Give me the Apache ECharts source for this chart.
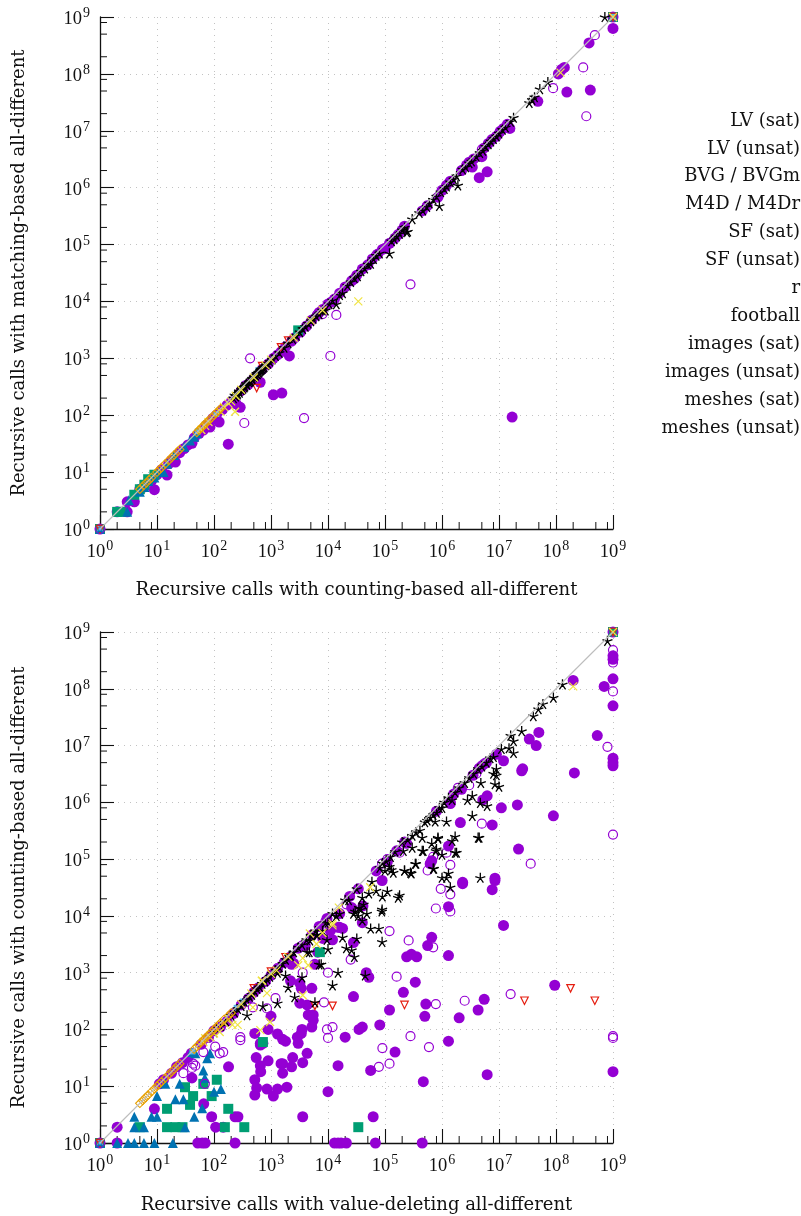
<!DOCTYPE html>
<html><head><meta charset="utf-8">
<style>html,body{margin:0;padding:0;background:#fff}#c{width:801px;height:1216px}</style>
<script src="https://cdn.jsdelivr.net/npm/echarts@6/dist/echarts.min.js"></script></head>
<body><div id="c"></div>
<script>
const legendNames = ['LV (sat)','LV (unsat)','BVG / BVGm','M4D / M4Dr','SF (sat)','SF (unsat)','r','football','images (sat)','images (unsat)','meshes (sat)','meshes (unsat)'];
const topTitleX = 'Recursive calls with counting-based all-different';
const topTitleY = 'Recursive calls with matching-based all-different';
const botTitleX = 'Recursive calls with value-deleting all-different';
const botTitleY = 'Recursive calls with counting-based all-different';
const corners = [[1,1],[1e9,1e9]];
const diagonal = [[1,1],[1e9,1e9]];

/* ---------- top chart: counting-based (x) vs matching-based (y) ---------- */
const topFilled = [[2,2],[3,3],[3,2],[4,3],[5,5],[6,5.5],[8,7],[9,4.9],[10,9],[12,11],[15,8.9],[16,14],[18,16],[21,15],[25,22],[30,26],[35,30],[41,32],[45,40],[55,48],[65,55],[75,68],[85,62],[95,88],[110,100],[123,76],[140,125],[170,150],[178,31],[200,170],[245,158],[288,138],[300,270],[400,350],[500,440],[645,380],[700,640],[900,800],[1100,229],[1550,245],[1300,1150],[1800,1600],[2100,1100],[2600,2300],[3300,2900],[4200,3700],[5200,4700],[6500,5800],[8000,7200],[1e4,9000],[1.3e4,1.1e4],[1.6e4,1.4e4],[2e4,1.8e4],[2.6e4,2.3e4],[3.2e4,2.9e4],[4e4,3.7e4],[5e4,4.4e4],[6e4,5.6e4],[7.5e4,6.8e4],[9e4,8.2e4],[1e5,8.6e4],[1.5e5,1.3e5],[1.7e5,1.5e5],[2e5,1.8e5],[2.2e5,2.1e5],[4.5e5,3.9e5],[5.5e5,4.8e5],[8.5e5,6.8e5],[1e6,9e5],[1.2e6,1.1e6],[1.4e6,1.3e6],[2.2e6,2e6],[2.7e6,2.5e6],[3e6,2.8e6],[3.4e6,2.3e6],[4.5e6,1.5e6],[5e6,3.5e6],[6.2e6,1.9e6],[5.5e6,5e6],[6.5e6,6e6],[7.5e6,7e6],[1.05e7,9.8e6],[1.2e7,1.1e7],[1.4e7,1.3e7],[1.55e7,1.1e7],[1.7e7,93],[4.8e7,3.3e7],[1.1e8,1e8],[1.25e8,1.2e8],[1.4e8,1.3e8],[1.55e8,4.8e7],[3.8e8,3.5e8],[4e8,5.2e7],[1e9,6.3e8],[1e9,1e9],[1,1],[1.1e3,1e3],[1.5e3,1.3e3],[2.3e3,2e3],[7e3,6.4e3],[1.15e4,9800],[2.9e4,2.5e4],[1.2e5,1.05e5],[3.6e6,3.2e6],[9e6,8e6]];
const topOpen = [[430,1000],[340,73],[3800,89],[1.1e4,1100],[1.4e4,5800],[2.8e5,2e4],[8.9e7,5.6e7],[3e8,1.3e8],[3.4e8,1.8e7],[4.8e8,4.8e8],[1.2e8,1.1e8],[1.3e6,1.2e6],[7e4,6.5e4],[1e7,9e6],[5e6,4.7e6],[2.2e6,2e6],[8e3,6e3],[350,330],[1e9,1e9],[1,1]];
const topSquares = [[1,1],[2,2],[2.3,2],[4,4],[5,5],[6,6],[7,7.5],[9,9],[3000,3100],[1e9,1e9]];
const topTriangles = [[1,1],[3,2],[3.2,3.2],[5,4.5],[6,5.5],[7,7],[9,8],[11,10],[13,10],[15,14],[20,20],[30,28],[38,36],[45,42],[50,48]];
const topSkyBlue = [[1,1],[52,52],[110,105],[600,620],[1e9,1e9]];
const topStars = [[220,200],[230,225],[240,215],[255,230],[260,240],[275,265],[280,250],[300,280],[310,300],[320,290],[340,310],[350,320],[370,360],[380,340],[410,380],[430,390],[440,400],[460,430],[470,440],[500,470],[520,490],[540,500],[560,540],[580,530],[600,560],[620,570],[640,600],[660,620],[680,640],[700,650],[730,680],[760,700],[820,760],[880,810],[950,880],[1050,960],[1200,1100],[1400,1250],[1700,1550],[2000,1850],[2400,2200],[2800,2500],[3200,2900],[3600,3300],[4000,3600],[4500,4100],[5000,4500],[5500,5000],[6200,5500],[7000,6000],[8000,7000],[9000,7000],[1.05e4,9000],[1.2e4,1.05e4],[1.4e4,9000],[1.6e4,1.3e4],[1.8e4,1.4e4],[2.2e4,1.9e4],[2.5e4,2.2e4],[2.9e4,2.6e4],[3.3e4,2.8e4],[3.8e4,3.4e4],[4.4e4,3.8e4],[5e4,4.5e4],[5.6e4,4.6e4],[6.3e4,5.6e4],[7e4,6.4e4],[8e4,7e4],[1.2e5,7e4],[1.3e5,1.15e5],[1.45e5,1.25e5],[1.6e5,1.4e5],[1.8e5,1.55e5],[2e5,1.8e5],[2.2e5,2e5],[2.5e5,1.7e5],[2.4e5,1.65e5],[3e5,2.8e5],[4e5,3.6e5],[4.6e5,4e5],[5.4e5,4.6e5],[6e5,5.3e5],[7e5,6.2e5],[8e5,7e5],[9e5,4.8e5],[9.5e5,8.4e5],[1.1e6,9.5e5],[1.2e6,1.05e6],[1.4e6,1.25e6],[1.6e6,1.4e6],[1.9e6,1.1e6],[1.8e6,1.6e6],[2.3e6,2.1e6],[2.6e6,2.3e6],[3e6,2.7e6],[3.3e6,2.9e6],[4e6,3.5e6],[4.6e6,4.1e6],[5.2e6,4.5e6],[5.8e6,5.3e6],[6.5e6,5.8e6],[7.2e6,6.5e6],[8e6,7.2e6],[9e6,8e6],[1e7,9e6],[1.15e7,1.05e7],[1.3e7,1.15e7],[1.8e7,1.7e7],[1.6e7,1.45e7],[3.4e7,3.1e7],[3.8e7,3.5e7],[4.2e7,3.9e7],[5.2e7,5.4e7],[7.2e7,7.2e7],[7.2e8,1e9]];
const topRedTriangles = [[1,1],[560,300],[2e3,2050],[700,730],[1500,1560],[1e9,1e9]];
const topDiamonds = [[5,5],[5.8,5.8],[6.5,6.5],[7.3,7.3],[8,8],[10,10],[11,11],[12,12],[14,14],[16,16],[18,18],[20,20],[23,23],[25,25],[50,50],[55,55],[60,60],[65,65],[70,70],[75,75],[80,80],[90,90],[100,100],[110,110],[120,120],[130,130]];
const topCrosses = [[234,115],[3.4e4,1e4],[60,55],[70,65],[80,76],[130,115],[150,140],[180,160],[200,175],[240,220],[300,280],[500,460],[800,750],[1000,950],[2500,2300],[5000,4600],[8000,7000],[1.2e8,1.05e8],[1e9,1e9]];

/* ---------- bottom chart: value-deleting (x) vs counting-based (y) ---------- */
const botFilled = [[1e9,1.5e8],[1e9,5e7],[7e8,1.1e8],[2e8,1.4e8],[5.3e8,1.5e7],[1e9,6e6],[1e9,5e6],[1e9,4.4e6],[2.1e8,3.3e6],[9e7,5.8e5],[1e9,3.8e8],[1e9,3.3e8],[5e7,1.7e7],[3.4e7,1.3e7],[4.5e7,1e7],[9e6,7e6],[1.2e7,5.4e6],[5.6e6,4.8e6],[2.6e7,3.9e6],[2.5e7,3.6e6],[2.2e6,1.7e6],[6.2e6,1.3e6],[5.2e6,1.1e6],[1.4e6,1e6],[1.1e7,8e5],[2.1e7,9e5],[2.1e6,4.4e5],[7.6e6,4e5],[2.2e7,1.5e5],[1.3e6,1.7e5],[6.6e5,9.4e4],[6.2e5,8.3e4],[2.4e5,1.9e5],[8.5e6,4.6e4],[2.3e6,3.9e4],[2.3e6,3.7e4],[7.6e6,2.9e4],[8.5e6,4.2e4],[1.2e7,6.8e3],[6.6e5,4.2e3],[5.6e5,3e3],[1.3e6,2e3],[2.4e5,1.9e3],[2.9e5,2.1e3],[3.6e5,1.9e3],[4.7e4,1e3],[5.2e4,830],[3.4e5,680],[2.1e5,450],[9.5e7,600],[5.5e6,340],[5.2e5,280],[1.2e5,220],[2.8e4,380],[5e5,170],[2e6,160],[4.3e6,220],[8.1e4,120],[3.5e4,100],[4e4,110],[2e4,73],[1.3e6,62],[1.5e5,40],[1.5e4,23],[5.6e4,19],[6.2e6,16],[1e9,18],[4.7e5,12],[1e4,8],[6.2e4,2.9],[3.6e3,2.9],[5.2e3,530],[4.3e3,38],[3.6e3,26],[1.3e4,1],[1.5e4,1],[1.7e4,1],[2.1e4,1],[6.8e4,1],[4.5e5,1],[3.2e3,650],[3.4e3,530],[5.9e3,1400],[2.2e3,720],[2.3e3,1400],[2.5e3,1450],[6.6e3,2300],[3.2e3,290],[4.3e3,270],[4.5e3,180],[5.5e3,145],[5.5e3,180],[5.2e3,110],[3.5e3,100],[2.9e3,73],[3.4e3,85],[3e3,57],[1.3e3,83],[1.6e3,67],[1.8e3,62],[650,57],[720,57],[520,85],[1e3,170],[890,100],[550,32],[890,28],[2.4e3,32],[1.5e3,25],[2.3e3,22],[650,23],[660,18],[1.6e3,17],[520,13],[180,22],[650,53],[1600,25],[1900,9.6],[520,7],[560,9.3],[850,8.9],[1300,8.9],[1100,6.7],[41,14],[66,4.9],[9,4],[2,1.9],[91,2.9],[107,1.9],[145,1.9],[234,2.9],[263,2.9],[2,1],[52,1],[62,1],[70,1],[234,1],[1.6e4,6300],[1.8e4,6000],[1.2e4,3800],[8.1e3,4000],[2.8e4,3400],[2.6e4,1.4e4],[1.6e4,1.1e4],[4e4,7600],[4.1e4,1.5e4],[1.5e4,6300],[1.1e4,5500],[8.9e4,4.2e4],[1.3e6,1.45e4],[1.4e6,9.5e5],[9.6e3,9000],[5.2e3,4600],[4e3,3000],[11,11],[13,13],[18,17],[22,22],[28,26],[35,32],[40,38],[60,55],[80,72],[100,95],[130,110],[170,140],[220,190],[300,270],[400,350],[500,450],[600,540],[800,700],[1e3,900],[1300,1150],[1700,1500],[2200,1900],[3e3,2700],[7e3,6500],[2.4e4,2.2e4],[3.4e4,3e4],[7e4,6.2e4],[1.1e5,9e4],[1.6e5,1.4e5],[2.2e5,2e5],[8e5,7e5],[1.6e6,1.4e6],[3.5e6,3e6],[4.5e6,4e6],[5e6,4.4e6],[6e6,5e6],[1e9,1e9],[1,1]];
const botOpen = [[1e9,4.8e8],[1e9,2.9e8],[1e9,9e7],[8e8,9.5e6],[1e9,2.7e5],[5e6,4.2e5],[3.6e7,8.3e4],[1.4e6,7.9e4],[5.6e5,6.3e4],[1.2e6,1.3e5],[7e5,1.1e5],[1.1e5,1e5],[8.9e4,8.3e4],[1.8e5,1.3e5],[3e6,2e6],[4e6,3.2e6],[1.9e6,1.8e6],[9.6e3,100],[1.2e4,110],[1e4,71],[2.8e5,76],[9e4,47],[5.9e5,49],[1.2e5,25],[7.8e4,22],[2.5e6,320],[7.8e5,280],[1.6e7,420],[1.6e5,850],[1e4,1e3],[1.2e5,5400],[2.6e5,3700],[7e5,2800],[2.5e4,1700],[8.5e3,300],[7.8e5,1.35e4],[1.4e6,1.2e4],[9.5e5,3e4],[1.4e6,2.4e4],[1e9,76],[1e9,71],[290,73],[290,65],[105,50],[126,38],[145,40],[65,40],[43,25],[47,23],[41,21],[29,17],[69,11],[850,235],[1200,355],[480,245],[3500,3000],[3600,1000],[1e3,900],[1.3e3,1.2e3],[9e3,8e3],[2.1e4,1.6e4],[1,1],[1e9,1e9]];
const botSquares = [[5,1.9],[15,1.9],[21,1.9],[28,1.9],[15,4],[38,4.7],[31,9.6],[43,6.7],[65,11],[112,13],[91,6.7],[178,4],[155,1.9],[340,1.9],[720,60],[3.4e4,1.9],[7.2e3,2300],[1,1],[1e9,1e9]];
const botTriangles = [[4,2.9],[4,1.9],[5.9,1.9],[8,2.9],[10,2.9],[10,6.7],[14,11],[21,5.9],[29,5.9],[25,11],[31,1.9],[45,2.9],[62,4.1],[65,19],[69,14],[100,8],[132,8.9],[76,31],[85,38],[47,38],[40,40],[2,1],[3.1,1],[4,1],[5.9,1],[9,1],[19,1],[1,1]];
const botSkyBlue = [[1,1],[42,41],[320,310],[250,240]];
const botStars = [[8e8,7e8],[1.3e8,1.2e8],[9e7,7e7],[5.9e7,5.4e7],[4.9e7,4.4e7],[4e7,3.3e7],[2.5e7,1.8e7],[1.6e7,1.5e7],[1.8e7,1.2e7],[1.5e7,9e6],[1.8e7,7.4e6],[1.1e7,8.7e6],[8e6,6.3e6],[6e6,5e6],[4.3e6,3.9e6],[8e6,3.2e6],[9e6,3.9e6],[9e6,3e6],[4.8e6,2.2e6],[8.5e6,2.1e6],[1e7,1.9e6],[2.5e6,2.2e6],[3.4e6,1.3e6],[2.8e6,1.1e6],[4.7e6,9.8e5],[6.2e6,8.7e5],[1.5e6,1.1e6],[1e6,8e5],[3.4e6,5.8e5],[8e5,6.6e5],[1.2e6,4.6e5],[7.6e5,4.6e5],[5.5e5,4.8e5],[4.1e5,3.2e5],[4.5e5,2.4e5],[4.5e6,2.4e5],[8.5e5,2.3e5],[1.7e6,2.5e5],[1.5e6,2.1e5],[8e5,1.5e5],[1.7e6,1.3e5],[4.7e5,1.4e5],[2e5,2e5],[3.4e5,8.3e4],[2.1e5,1.4e5],[2.8e5,5.8e4],[2.2e5,6.3e4],[7e5,6.8e4],[1.2e6,4.7e4],[4.7e6,4.7e4],[5.6e4,6e3],[7.8e4,6e3],[8.9e4,3.5e3],[3.2e4,4e3],[1.8e4,4.2e3],[2.1e4,2.7e3],[2.6e4,2.5e3],[2.9e4,1.9e3],[1e4,2.6e3],[7.6e3,1.4e3],[1.5e4,1e3],[4.5e4,900],[1.2e4,600],[3.5e3,830],[5.9e3,300],[9.6e3,3.8e3],[8.9e4,1.3e4],[8.8e4,1.2e4],[1.8e5,2.3e4],[1.7e5,2.1e4],[1.1e5,2.7e4],[9e4,2.2e4],[7e4,2.8e4],[5.2e4,2.5e4],[4e4,2.1e4],[4.8e4,1.1e4],[4e4,8.3e3],[3.5e4,1.4e4],[2.8e4,1.1e4],[2.3e4,1.9e4],[1.6e4,1.1e4],[1.2e4,1.1e4],[1e4,7.6e3],[6.5e3,4.6e3],[4.8e3,3.7e3],[4.7e3,2.3e3],[4.3e6,2.4e5],[3.5e5,8.3e4],[7.2e5,6.8e4],[1e6,4.7e4],[1.3e6,5.6e4],[1.4e6,3.2e4],[1.8e6,1.3e5],[1e6,1.2e5],[7.8e5,1.4e5],[6.6e5,1.9e5],[8.5e5,2.4e5],[4.5e5,1.4e5],[3e5,1.6e5],[2.2e5,6.3e4],[2.9e5,5.6e4],[5.9e4,4e4],[3.2e4,3e4],[1.4e5,5.8e4],[1.2e5,7.4e4],[1e5,6.3e4],[8.1e4,7e4],[1.3e5,6.5e4],[2.6e3,370],[2e3,550],[1.3e3,290],[720,257],[380,178],[1.8e3,890],[7e3,1.4e3],[1.3e3,1e3],[4.3e3,2.3e3],[2.2e3,2e3],[6.3e3,4.7e3],[8e3,5.5e3],[9e3,7.5e3],[1.4e4,1e4],[2e4,1.9e4],[3e4,1.2e4],[4.2e4,1.6e4],[3.8e4,1.3e4],[3.4e4,1e4],[100,90],[130,115],[160,140],[200,175],[230,200],[260,230],[300,260],[340,310],[380,330],[420,380],[460,410],[520,470],[570,520],[630,560],[700,640],[780,700],[850,780],[950,850],[1050,960],[1200,1100],[1400,1250],[1600,1450],[1800,1700],[2100,1950],[2500,2300],[3e3,2800],[3500,3100],[4.2e3,3800],[5e3,4500],[6e3,5400],[9e4,8.5e4],[1.05e5,9.2e4],[1.25e5,1.1e5],[1.5e5,1.35e5],[2.5e5,2.2e5],[3e5,2.6e5],[3.5e5,3e5],[5e5,4.5e5],[6.2e5,5.4e5],[7e5,6e5],[9e5,8e5],[1.1e6,1e6],[1.3e6,1.2e6],[1.7e6,1.5e6],[2e6,1.8e6],[3e6,2.7e6],[3.6e6,3.2e6],[5e6,4.3e6],[7e6,6e6]];
const botRedTriangles = [[1,1],[5.9e3,260],[1.2e4,260],[2.2e5,270],[2.8e7,320],[1.8e8,530],[4.8e8,320],[1000,1040],[1800,1870],[500,530],[1e9,1e9]];
const botDiamonds = [[5,5],[5.6,5.6],[6.3,6.3],[7,7],[8,8],[9,9],[10,10],[11,11],[12,12],[14,14],[16,16],[18,18],[20,20],[23,23],[25,25],[45,45],[50,50],[55,55],[60,60],[65,65],[70,70],[75,75],[80,80],[90,90],[100,100],[110,110],[120,120],[130,130],[150,150],[180,175],[200,195]];
const botCrosses = [[650,97],[960,135],[480,245],[850,435],[3.6e3,400],[3e3,1350],[3.6e3,1800],[4.5e3,1350],[8e3,5e3],[690,720],[1250,1100],[210,120],[126,90],[85,73],[65,60],[260,120],[1.2e4,6800],[6.3e3,3200],[5.5e4,3.2e4],[1.55e4,1.4e4],[1.2e4,7400],[4.8e3,4900],[2e8,1.1e8],[300,280],[450,430],[700,720],[1e3,950],[2e3,1900],[70,70],[100,85],[150,130],[180,150],[1e9,1e9]];

const minorFactors = [2,5,8];
const decades = [1,1e1,1e2,1e3,1e4,1e5,1e6,1e7,1e8];
const minorTicks = decades.flatMap(d => minorFactors.map(f => f * d));

const FONT = 'DejaVu Serif';
const NUMFONT = 'Liberation Serif';
const TEXTSIZE = 18;
const tickLabel = v => '{b|10}{s|' + Math.round(Math.log10(v)) + '}';
const starPath = 'path://M0 -10L0 0M9.5 -3.1L0 0M5.9 8.1L0 0M-5.9 8.1L0 0M-9.5 -3.1L0 0';
const crossPath = 'path://M-5 -5L5 5M-5 5L5 -5';
const hollow = (c,w) => ({color:'rgba(0,0,0,0)',borderColor:c,borderWidth:w||1.2,opacity:1});

function axis(gridIndex, name, nameGap, isY) {
  return {
    type:'log', logBase:10, min:1, max:1e9, gridIndex, splitNumber:9,
    name, nameLocation:'middle', nameGap,
    nameTextStyle:{fontFamily:FONT,fontSize:TEXTSIZE,color:'#111'},
    axisLine:{onZero:false,lineStyle:{color:'#111',width:1.3}},
    axisTick:{inside:true,length:14,lineStyle:{color:'#111',width:1.1}},
    minorTick:{show:false}, minorSplitLine:{show:false},
    splitLine:{show:true,lineStyle:{type:[1,5],color:'#c2c2c2',width:1}},
    axisLabel:{formatter:tickLabel,margin:isY?10:11,fontFamily:NUMFONT,hideOverlap:false,showMinLabel:true,showMaxLabel:true,
      rich:{b:{fontFamily:NUMFONT,fontSize:18.5,color:'#111',lineHeight:20,padding:[4,0,0,0]},s:{fontFamily:NUMFONT,fontSize:14,color:'#111',lineHeight:12,padding:[0,0,7,1]}}}
  };
}
function scatter(name, g, data, symbol, size, itemStyle, z, extra) {
  return Object.assign({type:'scatter',name,xAxisIndex:g,yAxisIndex:g,data,symbol,symbolSize:size,itemStyle,z,clip:false,silent:true}, extra||{});
}
function ticksSeries(g, vertical) {
  return {
    type:'custom',xAxisIndex:g,yAxisIndex:g,z:3,silent:true,clip:false,
    data:minorTicks.map(v => vertical ? [1,v] : [v,1]),
    encode:{x:0,y:1},
    renderItem:(p,api)=>{
      const a = api.coord([api.value(0),api.value(1)]);
      const b = vertical ? [a[0]+7,a[1]] : [a[0],a[1]-7];
      return {type:'line',shape:{x1:a[0],y1:a[1],x2:b[0],y2:b[1]},style:{stroke:'#111',lineWidth:1}};
    }
  };
}
function plotSeries(g, d) {
  return [
    scatter(legendNames[1],g,d.filled,'circle',11,{color:'#9400D3',opacity:1},10),
    scatter(legendNames[2],g,d.squares,'rect',10,{color:'#009E73',opacity:1},11),
    scatter(legendNames[3],g,d.triangles,'triangle',10,{color:'#0072B2',opacity:1},12),
    scatter(legendNames[0],g,d.open,'circle',9,hollow('#9400D3'),13),
    scatter(legendNames[4],g,d.sky,'rect',6,{color:'#56B4E9',opacity:1},14),
    scatter(legendNames[8],g,d.red,'triangle',7.5,hollow('#E51E10'),15,{symbolRotate:180}),
    scatter(legendNames[5],g,d.stars,starPath,10,hollow('#000000',1.3),16),
    scatter(legendNames[7],g,d.crosses,crossPath,8,hollow('#F0E442'),17),
    scatter(legendNames[6],g,d.diamonds,'diamond',8.5,hollow('#E69F00',1.1),18),
    scatter(legendNames[9],g,[corners[0]],'circle',5,{color:'#E51E10',opacity:1},19),
    scatter(legendNames[10],g,[corners[0]],'triangle',6,{color:'#0072B2',opacity:1},19),
    scatter(legendNames[11],g,[corners[0]],'rect',3,{color:'#56B4E9',opacity:1},19),
    {type:'line',xAxisIndex:g,yAxisIndex:g,data:diagonal,showSymbol:false,symbol:'none',z:20,silent:true,lineStyle:{color:'#bdbdbd',width:1.1}},
    ticksSeries(g,false), ticksSeries(g,true)
  ];
}

const chart = echarts.init(document.getElementById('c'),null,{renderer:'canvas',width:801,height:1216});
chart.setOption({
  animation:false, backgroundColor:'#fff',
  legend:{show:true,orient:'vertical',right:-4,top:112,align:'right',data:legendNames,selectedMode:false,icon:'none',itemWidth:0,itemHeight:18,itemGap:9.9,padding:0,
    textStyle:{fontFamily:FONT,fontSize:TEXTSIZE,color:'#111',padding:[0,0,0,0]}},
  tooltip:{show:false},
  grid:[{left:100,top:17,width:513,height:512,containLabel:false},{left:100,top:632,width:513,height:511,containLabel:false}],
  xAxis:[axis(0,topTitleX,52,false),axis(1,botTitleX,53,false)],
  yAxis:[axis(0,topTitleY,72,true),axis(1,botTitleY,72,true)],
  series:[
    ...plotSeries(0,{filled:topFilled,open:topOpen,squares:topSquares,triangles:topTriangles,sky:topSkyBlue,stars:topStars,red:topRedTriangles,diamonds:topDiamonds,crosses:topCrosses}),
    ...plotSeries(1,{filled:botFilled,open:botOpen,squares:botSquares,triangles:botTriangles,sky:botSkyBlue,stars:botStars,red:botRedTriangles,diamonds:botDiamonds,crosses:botCrosses})
  ]
});
</script></body></html>
